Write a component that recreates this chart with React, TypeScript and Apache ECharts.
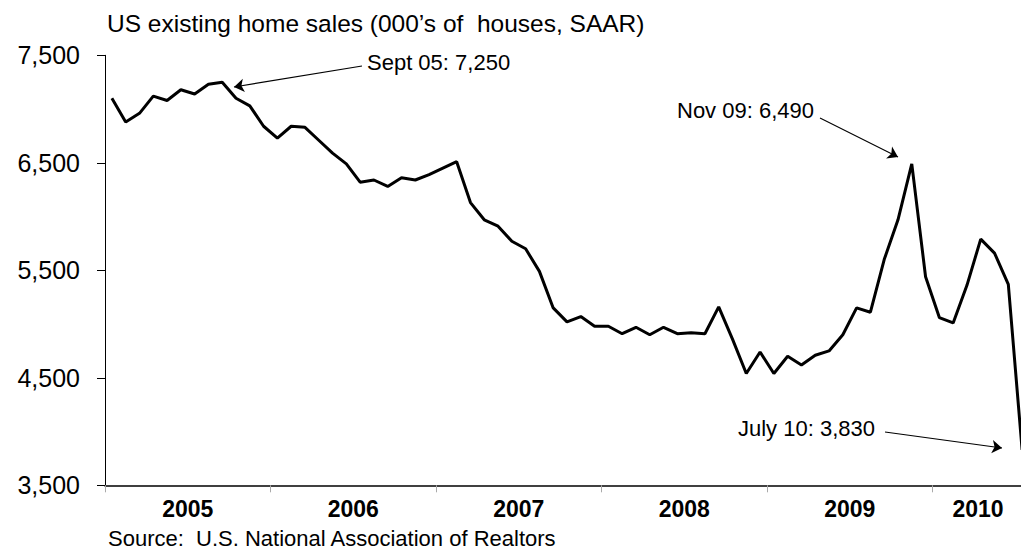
import React, { useEffect, useRef } from "react";
import * as echarts from "echarts";

// Monthly US existing home sales, Jan 2005 .. Jul 2010 (000's, SAAR)
const months: string[] = [];
const years = [2005, 2006, 2007, 2008, 2009, 2010];
const monthNames = ["Jan", "Feb", "Mar", "Apr", "May", "Jun", "Jul", "Aug", "Sep", "Oct", "Nov", "Dec"];
years.forEach((y) => monthNames.forEach((m) => months.push(m + " " + String(y).slice(2))));
months.length = 67;

const sales = [
  7100, 6880, 6960, 7120, 7080, 7180, 7140, 7230, 7250, 7100, 7030, 6840,
  6730, 6840, 6830, 6710, 6590, 6490, 6320, 6340, 6280, 6360, 6340, 6390,
  6450, 6510, 6130, 5970, 5910, 5770, 5700, 5490, 5150, 5020, 5070, 4980,
  4980, 4910, 4970, 4900, 4970, 4910, 4920, 4910, 5160, 4860, 4540, 4740,
  4540, 4700, 4620, 4710, 4750, 4900, 5150, 5110, 5600, 5970, 6490, 5440,
  5060, 5010, 5360, 5790, 5660, 5370, 3830,
];

const yTicks = [3500, 4500, 5500, 6500, 7500];
const yearStarts = [0, 12, 24, 36, 48, 60];
const yearLabelPos = [6, 18, 30, 42, 54, 63.3];

const titleText = "US existing home sales (000\u2019s of  houses, SAAR)";
const sourceText = "Source:  U.S. National Association of Realtors";
const notes = ["Sept 05: 7,250", "Nov 09: 6,490", "July 10: 3,830"];

const FONT = "'Liberation Sans', Arial, sans-serif";

export default function App() {
  const ref = useRef<HTMLDivElement>(null);
  useEffect(() => {
    if (!ref.current) return;
    const chart = echarts.init(ref.current, undefined, { renderer: "svg" });
    const data = sales.map((v, i) => [i + 0.5, v]);
    chart.setOption({
      animation: false,
      backgroundColor: "#fff",
      textStyle: { fontFamily: FONT },
      grid: {
        left: 105,
        width: 924,
        top: 55.3,
        height: 430,
        containLabel: false,
        outerBoundsMode: "none",
      },
      xAxis: {
        type: "value",
        min: 0,
        max: 67,
        splitLine: { show: false },
        axisLine: { show: true, onZero: false, lineStyle: { color: "#000", width: 1.5 } },
        axisTick: {
          show: true,
          customValues: yearStarts,
          length: 7,
          lineStyle: { color: "#aaaaaa", width: 1 },
        },
        axisLabel: {
          customValues: yearLabelPos,
          margin: 12,
          fontSize: 23,
          fontWeight: "bold",
          color: "#000",
          fontFamily: FONT,
          formatter: (v: number) => String(2005 + Math.floor(v / 12)),
        },
      },
      yAxis: {
        type: "value",
        min: 3500,
        max: 7500,
        splitLine: { show: false },
        axisLine: { show: true, lineStyle: { color: "#000", width: 1 } },
        axisTick: {
          show: true,
          inside: false,
          length: 8,
          customValues: yTicks,
          lineStyle: { color: "#000", width: 1 },
        },
        axisLabel: {
          customValues: yTicks,
          margin: 25,
          fontSize: 25,
          color: "#000",
          fontFamily: FONT,
          formatter: (v: number) => v.toLocaleString("en-US"),
        },
      },
      series: [
        {
          type: "line",
          data,
          symbol: "none",
          lineStyle: { color: "#000", width: 3 },
          markLine: {
            silent: true,
            symbol: ["none", "arrow"],
            symbolSize: 10,
            label: { show: false },
            lineStyle: { color: "#000", width: 1.2, type: "solid" },
            data: [
              [{ x: 362, y: 66 }, { x: 234, y: 87 }],
              [{ x: 820, y: 118 }, { x: 898, y: 157 }],
              [{ x: 885, y: 432 }, { x: 1002, y: 448 }],
            ],
          },
        },
      ],
      graphic: [
        {
          type: "text",
          left: 107,
          top: 10.5,
          style: { text: titleText, fontSize: 24.5, fill: "#000", fontFamily: FONT },
        },
        {
          type: "text",
          left: 108,
          top: 527,
          style: { text: sourceText, fontSize: 22, fill: "#000", fontFamily: FONT },
        },
        {
          type: "text",
          left: 367,
          top: 51,
          style: { text: notes[0], fontSize: 22, fill: "#000", fontFamily: FONT },
        },
        {
          type: "text",
          left: 677,
          top: 99,
          style: { text: notes[1], fontSize: 22, fill: "#000", fontFamily: FONT },
        },
        {
          type: "text",
          left: 738,
          top: 417,
          style: { text: notes[2], fontSize: 22, fill: "#000", fontFamily: FONT },
        },
      ],
    });
    return () => chart.dispose();
  }, []);
  return (
    <div
      ref={ref}
      style={{ position: "absolute", left: 0, top: 0, width: 1021, height: 550 }}
    />
  );
}
